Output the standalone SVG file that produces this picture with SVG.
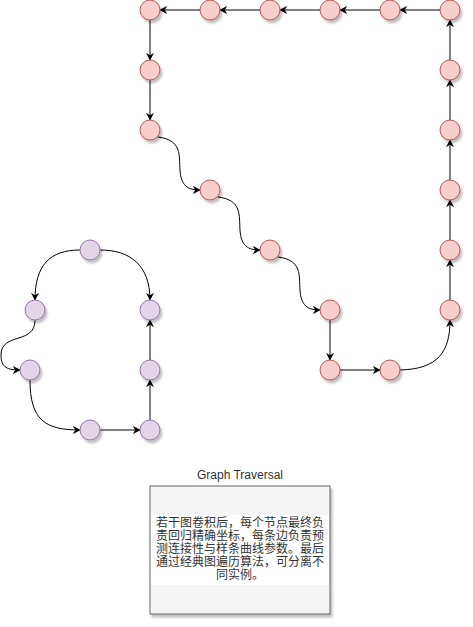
<svg xmlns="http://www.w3.org/2000/svg" width="473" height="627" viewBox="0 0 473 627">
<style>
.r{fill:#f8cecc;stroke:#b85450;stroke-width:1}
.p{fill:#e1d5e7;stroke:#9673a6;stroke-width:1}
.e{fill:none;stroke:#000;stroke-width:1;marker-end:url(#a)}
.t{font-family:"Liberation Sans","Noto Sans CJK SC",sans-serif;font-size:12px;text-anchor:middle;fill:#333}
</style>
<defs>
<filter id="s" x="-30%" y="-30%" width="170%" height="170%">
<feGaussianBlur in="SourceAlpha" stdDeviation="1.2"/>
<feOffset dx="2" dy="3" result="b"/>
<feComponentTransfer><feFuncA type="linear" slope="0.25"/></feComponentTransfer>
<feMerge><feMergeNode/><feMergeNode in="SourceGraphic"/></feMerge>
</filter>
<marker id="a" viewBox="0 0 10 10" refX="9" refY="5" markerWidth="8" markerHeight="8" markerUnits="userSpaceOnUse" orient="auto">
<path d="M0,0 L10,5 L0,10 L3,5 Z" fill="#000"/>
</marker>
</defs>
<g id="connectors">
<path class="e" d="M440,10 L400,10"/>
<path class="e" d="M380,10 L340,10"/>
<path class="e" d="M320,10 L280,10"/>
<path class="e" d="M260,10 L220,10"/>
<path class="e" d="M200,10 L160,10"/>
<path class="e" d="M150,20 L150,60"/>
<path class="e" d="M150,80 L150,120"/>
<path class="e" d="M158,137 C182,140 179,155 180,170 C181,186 188,190 200,190"/>
<path class="e" d="M218,197 C242,200 239,215 240,230 C241,246 248,250 260,250"/>
<path class="e" d="M278,257 C302,260 299,275 300,290 C301,306 308,310 320,310"/>
<path class="e" d="M330,320 L330,360"/>
<path class="e" d="M340,370 L380,370"/>
<path class="e" d="M400,370 C438,369 450,352 450,320"/>
<path class="e" d="M450,300 L450,260"/>
<path class="e" d="M450,240 L450,200"/>
<path class="e" d="M450,180 L450,140"/>
<path class="e" d="M450,120 L450,80"/>
<path class="e" d="M450,60 L450,20"/>
<path class="e" d="M80,250 C50,250 35,265 35,300"/>
<path class="e" d="M100,250 C130,250 150,265 150,300"/>
<path class="e" d="M35,320 C35,345 1,332 1,355 C1,368 8,370 20,370"/>
<path class="e" d="M30,380 C30,420 45,430 80,430"/>
<path class="e" d="M100,430 L140,430"/>
<path class="e" d="M150,420 L150,380"/>
<path class="e" d="M150,360 L150,320"/>
</g>
<g id="r1" filter="url(#s)"><circle class="r" cx="150" cy="10" r="10"/></g>
<g id="r2" filter="url(#s)"><circle class="r" cx="210" cy="10" r="10"/></g>
<g id="r3" filter="url(#s)"><circle class="r" cx="270" cy="10" r="10"/></g>
<g id="r4" filter="url(#s)"><circle class="r" cx="330" cy="10" r="10"/></g>
<g id="r5" filter="url(#s)"><circle class="r" cx="390" cy="10" r="10"/></g>
<g id="r6" filter="url(#s)"><circle class="r" cx="450" cy="10" r="10"/></g>
<g id="r7" filter="url(#s)"><circle class="r" cx="150" cy="70" r="10"/></g>
<g id="r8" filter="url(#s)"><circle class="r" cx="150" cy="130" r="10"/></g>
<g id="r9" filter="url(#s)"><circle class="r" cx="210" cy="190" r="10"/></g>
<g id="r10" filter="url(#s)"><circle class="r" cx="270" cy="250" r="10"/></g>
<g id="r11" filter="url(#s)"><circle class="r" cx="330" cy="310" r="10"/></g>
<g id="r12" filter="url(#s)"><circle class="r" cx="330" cy="370" r="10"/></g>
<g id="r13" filter="url(#s)"><circle class="r" cx="390" cy="370" r="10"/></g>
<g id="r14" filter="url(#s)"><circle class="r" cx="450" cy="310" r="10"/></g>
<g id="r15" filter="url(#s)"><circle class="r" cx="450" cy="250" r="10"/></g>
<g id="r16" filter="url(#s)"><circle class="r" cx="450" cy="190" r="10"/></g>
<g id="r17" filter="url(#s)"><circle class="r" cx="450" cy="130" r="10"/></g>
<g id="r18" filter="url(#s)"><circle class="r" cx="450" cy="70" r="10"/></g>
<g id="p1" filter="url(#s)"><circle class="p" cx="90" cy="250" r="10"/></g>
<g id="p2" filter="url(#s)"><circle class="p" cx="35" cy="310" r="10"/></g>
<g id="p3" filter="url(#s)"><circle class="p" cx="150" cy="310" r="10"/></g>
<g id="p4" filter="url(#s)"><circle class="p" cx="30" cy="370" r="10"/></g>
<g id="p5" filter="url(#s)"><circle class="p" cx="150" cy="370" r="10"/></g>
<g id="p6" filter="url(#s)"><circle class="p" cx="90" cy="430" r="10"/></g>
<g id="p7" filter="url(#s)"><circle class="p" cx="150" cy="430" r="10"/></g>
<g id="note">
<text class="t" x="240" y="479">Graph Traversal</text>
<rect x="150" y="486" width="180" height="128" fill="#f5f5f5" stroke="#666666" filter="url(#s)"/>
<rect x="151" y="515" width="178" height="70" fill="#ffffff"/>
<text class="t" x="240" y="527">若干图卷积后，每个节点最终负</text>
<text class="t" x="240" y="540">责回归精确坐标，每条边负责预</text>
<text class="t" x="240" y="553">测连接性与样条曲线参数。最后</text>
<text class="t" x="240" y="566">通过经典图遍历算法，可分离不</text>
<text class="t" x="240" y="579">同实例。</text>
</g>
</svg>
